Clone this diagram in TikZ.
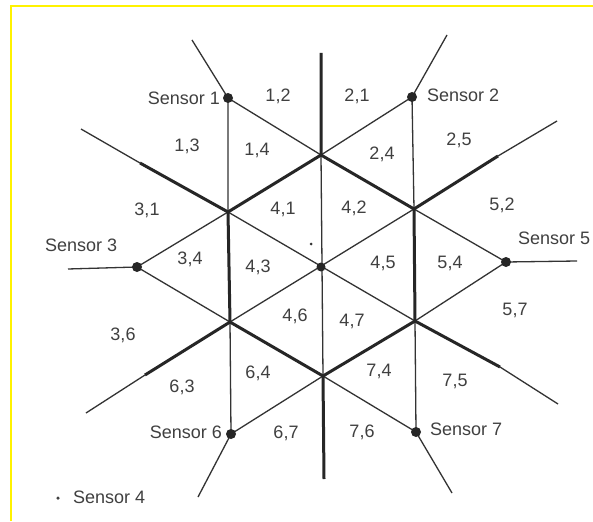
\documentclass[tikz,border=0pt]{standalone}
\usepackage{fontspec}
\setmainfont{Liberation Sans}
\begin{document}
\begin{tikzpicture}[x=1pt,y=-1pt,
  thinline/.style={draw=black!80, line width=1.3pt},
  thickline/.style={draw=black!85, line width=3pt},
  sensordot/.style={circle, fill=black!85, inner sep=0pt, minimum size=10pt},
  lab/.style={text=black!75, font=\fontsize{18}{20}\selectfont, inner sep=0pt, text height=0.72em, text depth=0pt},
  border/.style={draw=yellow, line width=2pt}]
\useasboundingbox (0,0) rectangle (593,521);
\fill[white] (0,0) rectangle (593,521);
\coordinate (bl) at (11,521);
\coordinate (tl) at (11,6);
\coordinate (tr) at (593,6);
\draw[border] (bl) -- (tl) -- (tr);

% Voronoi vertices (hexagon)
\coordinate (T) at (321,155);
\coordinate (UR) at (414,209);
\coordinate (LR) at (415,321);
\coordinate (B) at (323,376);
\coordinate (LL) at (230,322);
\coordinate (UL) at (228,212);
\coordinate (C) at (321,267);

% ray ends
\coordinate (Tt) at (321,53);
\coordinate (Bt) at (324,479);
\coordinate (ULk) at (140,163);  \coordinate (ULt) at (81,129);
\coordinate (URk) at (498,156);  \coordinate (URt) at (557,121);
\coordinate (LRk) at (500,367);  \coordinate (LRt) at (558,404);
\coordinate (LLk) at (145,375);  \coordinate (LLt) at (86,413);

% sensor ray ends
\coordinate (R1) at (192,40);
\coordinate (R2) at (447,35);
\coordinate (R3) at (68,269);
\coordinate (R5) at (577,261);
\coordinate (R6) at (198,497);
\coordinate (R7) at (452,493);

% sensors
\coordinate (S1) at (228,98);
\coordinate (S2) at (412,97);
\coordinate (S3) at (137,267);
\coordinate (S5) at (506,262);
\coordinate (S6) at (231,434);
\coordinate (S7) at (416,432);

% thin lines
\draw[thinline] (S1) -- (UL) (S1) -- (T) (S1) -- (R1);
\draw[thinline] (S2) -- (T) (S2) -- (UR) (S2) -- (R2);
\draw[thinline] (S3) -- (UL) (S3) -- (LL) (S3) -- (R3);
\draw[thinline] (S5) -- (UR) (S5) -- (LR) (S5) -- (R5);
\draw[thinline] (S6) -- (LL) (S6) -- (B) (S6) -- (R6);
\draw[thinline] (S7) -- (LR) (S7) -- (B) (S7) -- (R7);
\draw[thinline] (T) -- (B) (UL) -- (LR) (UR) -- (LL);
\draw[thinline] (ULk) -- (ULt) (URk) -- (URt) (LRk) -- (LRt) (LLk) -- (LLt);

% thick lines
\draw[thickline, line join=round] (T) -- (UR) -- (LR) -- (B) -- (LL) -- (UL) -- cycle;
\draw[thickline] (T) -- (Tt) (B) -- (Bt) (UL) -- (ULk) (UR) -- (URk) (LR) -- (LRk) (LL) -- (LLk);

% sensor dots
\node[sensordot] (n1) at (S1) {};
\node[sensordot] (n2) at (S2) {};
\node[sensordot] (n3) at (S3) {};
\node[sensordot] (n5) at (S5) {};
\node[sensordot] (n6) at (S6) {};
\node[sensordot] (n7) at (S7) {};
\node[sensordot, minimum size=9pt] (n4) at (C) {};
\node[circle, fill=black!80, inner sep=0pt, minimum size=3pt] (mark4) at (311,244) {};

% sensor labels
\node[lab, anchor=east] (l1) at (220,101) {Sensor 1};
\node[lab, anchor=west] (l2) at (427,98) {Sensor 2};
\node[lab, anchor=west] (l3) at (45,248) {Sensor 3};
\node[lab, anchor=west] (l5) at (518,241) {Sensor 5};
\node[lab, anchor=east] (l6) at (222,435) {Sensor 6};
\node[lab, anchor=west] (l7) at (430,432) {Sensor 7};
\node[circle, fill=black!75, inner sep=0pt, minimum size=3.5pt] (legdot) at (58,498) {};
\node[lab, anchor=west] (l4) at (73,500) {Sensor 4};

% region labels
\node[lab] (r12) at (278,98) {1,2};
\node[lab] (r21) at (357,98) {2,1};
\node[lab] (r13) at (187,148) {1,3};
\node[lab] (r14) at (257,152) {1,4};
\node[lab] (r24) at (382,156) {2,4};
\node[lab] (r25) at (459,142) {2,5};
\node[lab] (r31) at (147,212) {3,1};
\node[lab] (r41) at (283,211) {4,1};
\node[lab] (r42) at (354,210) {4,2};
\node[lab] (r52) at (502,207) {5,2};
\node[lab] (r34) at (190,261) {3,4};
\node[lab] (r43) at (258,269) {4,3};
\node[lab] (r45) at (383,265) {4,5};
\node[lab] (r54) at (450,265) {5,4};
\node[lab] (r36) at (123,337) {3,6};
\node[lab] (r46) at (295,318) {4,6};
\node[lab] (r47) at (352,323) {4,7};
\node[lab] (r57) at (515,312) {5,7};
\node[lab] (r63) at (182,389) {6,3};
\node[lab] (r64) at (258,375) {6,4};
\node[lab] (r74) at (379,373) {7,4};
\node[lab] (r75) at (455,383) {7,5};
\node[lab] (r67) at (286,435) {6,7};
\node[lab] (r76) at (362,434) {7,6};
\end{tikzpicture}
\end{document}
